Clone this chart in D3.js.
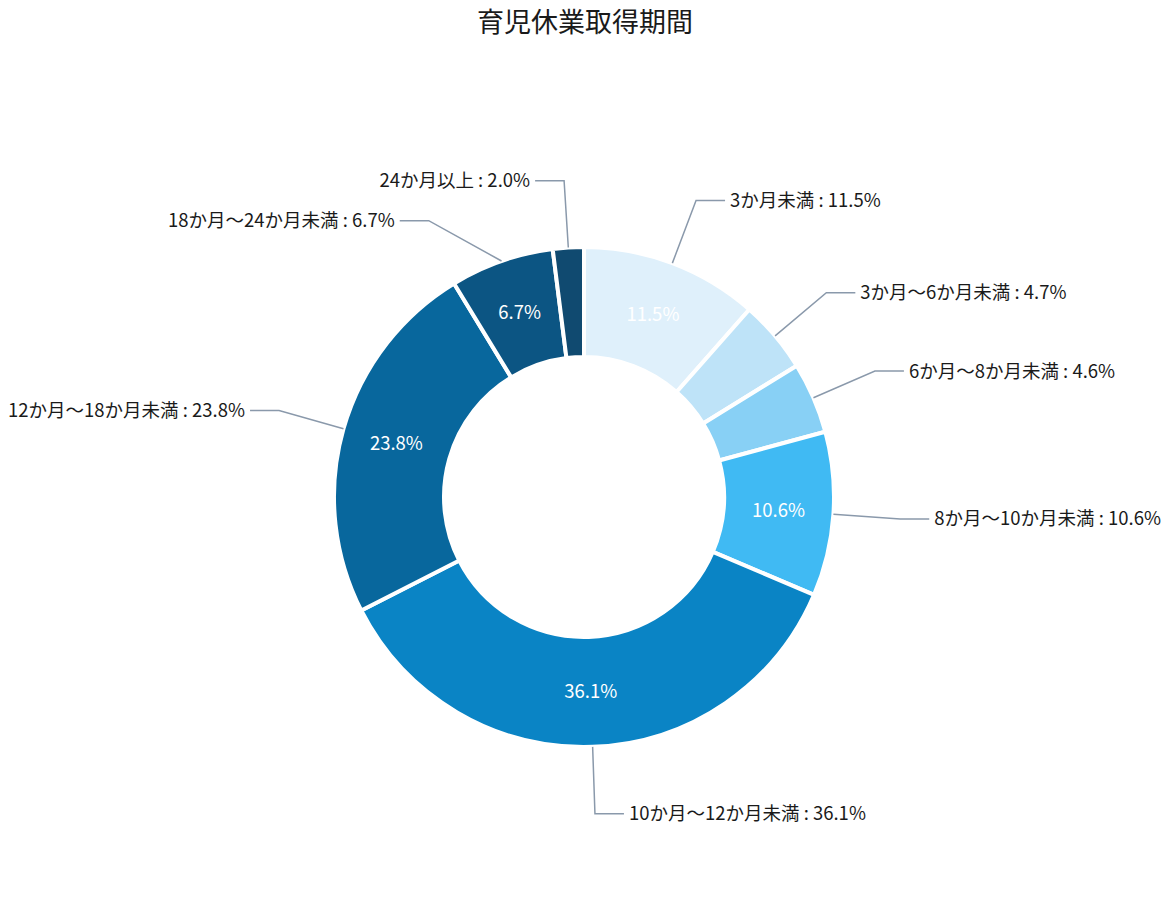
<!DOCTYPE html>
<html>
<head>
<meta charset="utf-8">
<script src="https://cdn.jsdelivr.net/npm/d3@7"></script>
<style>
  body { margin: 0; background: #fff; }
  text { font-family: "Noto Sans CJK JP", "Noto Sans", sans-serif; }
</style>
</head>
<body>
<div id="chart"></div>
<script>
var title = "育児休業取得期間";
var categories = ["3か月未満", "3か月〜6か月未満", "6か月〜8か月未満", "8か月〜10か月未満",
                  "10か月〜12か月未満", "12か月〜18か月未満", "18か月〜24か月未満", "24か月以上"];
var values = [11.5, 4.7, 4.6, 10.6, 36.1, 23.8, 6.7, 2.0];
var colors = ["#dff0fb", "#bee3f8", "#88d0f5", "#40baf3", "#0a84c5", "#08679d", "#0c5583", "#104a70"];

var width = 1170, height = 912;
var cx = 584, cy = 497, outerR = 250, innerR = 140;

var svg = d3.select("#chart").append("svg")
    .attr("width", width)
    .attr("height", height);

svg.append("text")
    .attr("x", 585)
    .attr("y", 25)
    .attr("text-anchor", "middle")
    .attr("dominant-baseline", "middle")
    .attr("font-size", 27)
    .attr("font-weight", 400)
    .attr("fill", "#1a1a1a")
    .text(title);

var pie = d3.pie().sort(null).value(function (d) { return d; });
var arcs = pie(values);

var arc = d3.arc().innerRadius(innerR).outerRadius(outerR);
var mid = d3.arc().innerRadius((innerR + outerR) / 2).outerRadius((innerR + outerR) / 2);

var g = svg.append("g").attr("transform", "translate(" + cx + "," + cy + ")");

g.selectAll("path")
    .data(arcs)
    .enter().append("path")
    .attr("d", arc)
    .attr("fill", function (d, i) { return colors[i]; })
    .attr("stroke", "#fff")
    .attr("stroke-width", 4)
    .attr("stroke-linejoin", "round");

// percentages inside the ring (only the bigger slices)
g.selectAll("text.inner")
    .data(arcs.filter(function (d) { return d.data >= 5; }))
    .enter().append("text")
    .attr("class", "inner")
    .attr("transform", function (d) { return "translate(" + mid.centroid(d) + ")"; })
    .attr("text-anchor", "middle")
    .attr("dy", "0.35em")
    .attr("font-size", 18.5)
    .attr("font-weight", 400)
    .attr("fill", "#fff")
    .text(function (d) { return d.data.toFixed(1) + "%"; });

// outside labels with leader lines
var bendR = outerR + 67, seg = 29, minGap = 40;
var labels = arcs.map(function (d, i) {
    var a = (d.startAngle + d.endAngle) / 2;
    return {
        i: i, right: Math.sin(a) >= 0,
        x1: cx + outerR * Math.sin(a), y1: cy - outerR * Math.cos(a),
        x2: cx + bendR * Math.sin(a), y2: cy - bendR * Math.cos(a)
    };
});

[true, false].forEach(function (side) {
    var s = labels.filter(function (l) { return l.right === side; })
        .sort(function (a, b) { return a.y2 - b.y2; });
    for (var k = 1; k < s.length; k++) {
        if (s[k].y2 - s[k - 1].y2 < minGap) {
            s[k].y2 = s[k - 1].y2 + minGap;
            var dy = s[k].y2 - cy;
            if (Math.abs(dy) < bendR) s[k].x2 = cx + (side ? 1 : -1) * Math.sqrt(bendR * bendR - dy * dy);
        }
    }
});

svg.selectAll("polyline.lead")
    .data(labels)
    .enter().append("polyline")
    .attr("class", "lead")
    .attr("points", function (l) {
        var x3 = l.x2 + (l.right ? seg : -seg);
        return [[l.x1, l.y1], [l.x2, l.y2], [x3, l.y2]].join(" ");
    })
    .attr("fill", "none")
    .attr("stroke", "#8a99ab")
    .attr("stroke-width", 1.5);

svg.selectAll("text.outer")
    .data(labels)
    .enter().append("text")
    .attr("class", "outer")
    .attr("x", function (l) { return l.x2 + (l.right ? seg + 5 : -seg - 5); })
    .attr("y", function (l) { return l.y2; })
    .attr("dy", "0.35em")
    .attr("text-anchor", function (l) { return l.right ? "start" : "end"; })
    .attr("font-size", 18.5)
    .attr("fill", "#1a1a1a")
    .text(function (l) { return categories[l.i] + " : " + values[l.i].toFixed(1) + "%"; });
</script>
</body>
</html>
